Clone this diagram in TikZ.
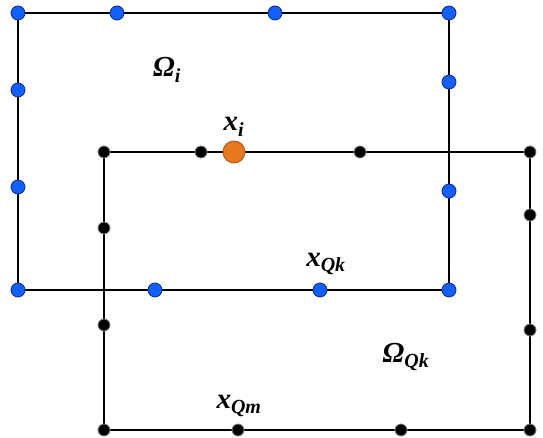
\documentclass[tikz,border=0pt]{standalone}
\usepackage{fontspec}
\setmainfont{Liberation Serif}
\usetikzlibrary{backgrounds}
\definecolor{dotblue}{RGB}{20,95,250}
\definecolor{dotblueline}{RGB}{10,40,150}
\definecolor{dotorange}{RGB}{232,120,30}
\definecolor{dotorangeline}{RGB}{170,80,10}
\tikzset{
  bdot/.style={circle,fill=dotblue,draw=dotblueline,line width=0.8pt,inner sep=0pt,minimum size=14pt},
  kdot/.style={circle,fill=black,draw=gray,line width=0.8pt,inner sep=0pt,minimum size=12pt},
  odot/.style={circle,fill=dotorange,draw=dotorangeline,line width=0.8pt,inner sep=0pt,minimum size=22pt},
  edge/.style={draw=black,line width=2.2pt},
  lab/.style={font=\fontsize{29}{32}\selectfont\bfseries\itshape,inner sep=0pt}
}
\newcommand{\sbs}[1]{\textsubscript{\fontsize{20}{22}\selectfont\bfseries\itshape #1}}
\begin{document}
\begin{tikzpicture}[x=1pt,y=-1pt]
\useasboundingbox (0,0) rectangle (543,438);
% blue rectangle dots
\node[bdot] (b1) at (18,13) {};
\node[bdot] (b2) at (117,13) {};
\node[bdot] (b3) at (275,13) {};
\node[bdot] (b4) at (449,13) {};
\node[bdot] (b5) at (449,82) {};
\node[bdot] (b6) at (449,191) {};
\node[bdot] (b7) at (449,290) {};
\node[bdot] (b8) at (320,290) {};
\node[bdot] (b9) at (155,290) {};
\node[bdot] (b10) at (18,290) {};
\node[bdot] (b11) at (18,187) {};
\node[bdot] (b12) at (18,90) {};
% black rectangle dots
\node[kdot] (k1) at (104,152) {};
\node[kdot] (k2) at (201,152) {};
\node[odot] (o) at (234,152) {};
\node[kdot] (k3) at (360,152) {};
\node[kdot] (k4) at (530,152) {};
\node[kdot] (k5) at (530,215) {};
\node[kdot] (k6) at (530,330) {};
\node[kdot] (k7) at (530,430) {};
\node[kdot] (k8) at (401,430) {};
\node[kdot] (k9) at (238,430) {};
\node[kdot] (k10) at (104,430) {};
\node[kdot] (k11) at (104,325) {};
\node[kdot] (k12) at (104,228) {};
\begin{scope}[on background layer]
\draw[edge] (b1.center) -- (b4.center) -- (b7.center) -- (b10.center) -- cycle;
\draw[edge] (k1.center) -- (k4.center) -- (k7.center) -- (k10.center) -- cycle;
\end{scope}
% labels
\node[lab] (lOi) at (167,70) {Ω\sbs{i}};
\node[lab] (lxi) at (234,127) {x\sbs{i}};
\node[lab] (lxqk) at (326,264) {x\sbs{Qk}};
\node[lab] (lOqk) at (406,357) {Ω\sbs{Qk}};
\node[lab] (lxqm) at (239,406) {x\sbs{Qm}};
\end{tikzpicture}
\end{document}
